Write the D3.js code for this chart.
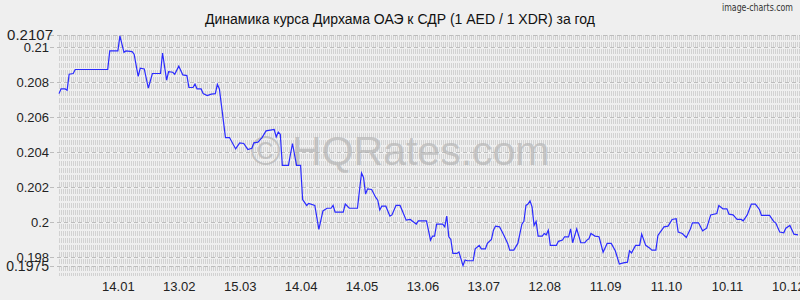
<!DOCTYPE html>
<html>
<head>
<meta charset="utf-8">
<script src="https://cdn.jsdelivr.net/npm/d3@7"></script>
<style>
	body { margin: 0; background: #efefef; }
	svg { display: block; font-family: "Liberation Sans", Arial, sans-serif; }
</style>
</head>
<body>
<div id="chart"></div>
<script>
////////////////////////////////////////////////////////////
//// Data //////////////////////////////////////////////////
////////////////////////////////////////////////////////////
const title = "Динамика курса Дирхама ОАЭ к СДР (1 AED / 1 XDR) за год";
const startDate = "2024-12-16";
const endDate = "2025-12-15";
// days since startDate
const days = [
	0, 1, 3, 4, 5, 7, 8, 24, 25, 29, 30, 32, 33, 36, 37, 39, 40, 42, 44, 46,
	50, 51, 53, 54, 56, 57, 59, 61, 63, 64, 66, 67, 68, 70, 71, 73, 75, 77, 78, 79,
	82, 84, 87, 89, 91, 93, 95, 96, 98, 100, 102, 106, 107, 108, 109, 110, 113, 115, 117, 119,
	120, 122, 123, 126, 128, 130, 132, 134, 135, 136, 140, 141, 143, 147, 149, 150, 151, 152, 154, 156,
	157, 158, 159, 161, 163, 164, 166, 168, 171, 173, 176, 177, 181, 183, 184, 185, 186, 189, 190, 191,
	192, 193, 194, 196, 197, 199, 200, 201, 204, 205, 207, 208, 210, 211, 213, 214, 215, 217, 219, 221,
	222, 224, 226, 228, 229, 230, 231, 232, 233, 234, 235, 236, 238, 239, 240, 241, 242, 245, 246, 248,
	249, 251, 252, 253, 255, 257, 259, 260, 261, 262, 264, 266, 268, 270, 272, 274, 276, 278, 280, 281,
	282, 284, 286, 287, 289, 291, 292, 294, 295, 298, 300, 302, 304, 305, 307, 309, 311, 312, 315, 316,
	317, 319, 321, 324, 325, 327, 329, 330, 332, 334, 336, 337, 339, 341, 343, 345, 346, 350, 352, 353,
	355, 357, 358, 360, 362, 364
];
const rates = [
	0.20735, 0.20762, 0.20762, 0.20754, 0.20846, 0.20850, 0.20873, 0.20873, 0.20979, 0.20979,
	0.21065, 0.20971, 0.20979, 0.20975, 0.20960, 0.20834, 0.20880, 0.20876, 0.20766, 0.20850,
	0.20850, 0.20967, 0.20812, 0.20861, 0.20857, 0.20846, 0.20892, 0.20842, 0.20838, 0.20770,
	0.20770, 0.20789, 0.20762, 0.20762, 0.20735, 0.20724, 0.20732, 0.20735, 0.20789, 0.20762,
	0.20484, 0.20484, 0.20419, 0.20454, 0.20450, 0.20416, 0.20423, 0.20454, 0.20458, 0.20484,
	0.20522, 0.20530, 0.20488, 0.20515, 0.20503, 0.20325, 0.20325, 0.20450, 0.20325, 0.20325,
	0.20130, 0.20096, 0.20108, 0.20096, 0.19959, 0.20065, 0.20080, 0.20080, 0.20096, 0.20058,
	0.20058, 0.20104, 0.20080, 0.20080, 0.20282, 0.20256, 0.20161, 0.20191, 0.20187, 0.20142,
	0.20126, 0.20070, 0.20092, 0.20092, 0.20035, 0.20042, 0.20096, 0.20096, 0.20012, 0.20016,
	0.19989, 0.20008, 0.20008, 0.19898, 0.19921, 0.19921, 0.19989, 0.19989, 0.19974, 0.20035,
	0.19917, 0.19902, 0.19822, 0.19822, 0.19830, 0.19752, 0.19784, 0.19780, 0.19780, 0.19848,
	0.19868, 0.19848, 0.19848, 0.19879, 0.19902, 0.19955, 0.19978, 0.19974, 0.19928, 0.19879,
	0.19841, 0.19841, 0.19879, 0.19989, 0.20005, 0.20096, 0.20104, 0.20122, 0.20088, 0.19982,
	0.20005, 0.19921, 0.19921, 0.19936, 0.19928, 0.19955, 0.19868, 0.19868, 0.19891, 0.19898,
	0.19917, 0.19917, 0.19962, 0.19883, 0.19962, 0.19883, 0.19883, 0.19898, 0.19905, 0.19936,
	0.19921, 0.19917, 0.19829, 0.19879, 0.19879, 0.19837, 0.19761, 0.19768, 0.19772, 0.19837,
	0.19825, 0.19868, 0.19868, 0.19932, 0.19868, 0.19852, 0.19841, 0.19841, 0.19925, 0.19974,
	0.19978, 0.20016, 0.20020, 0.19944, 0.19936, 0.19913, 0.19962, 0.19997, 0.19997, 0.19974,
	0.19951, 0.19966, 0.20042, 0.20050, 0.20096, 0.20077, 0.20077, 0.20046, 0.20042, 0.20016,
	0.20016, 0.20008, 0.20042, 0.20104, 0.20104, 0.20073, 0.20039, 0.20039, 0.20005, 0.19997,
	0.19944, 0.19940, 0.19966, 0.19982, 0.19932, 0.19928
];
const xTickDates = [
	"2025-01-14", "2025-02-13", "2025-03-15", "2025-04-14", "2025-05-14", "2025-06-13",
	"2025-07-13", "2025-08-12", "2025-09-11", "2025-10-11", "2025-11-10", "2025-12-10"
];
const yTicks = [0.1975, 0.198, 0.2, 0.202, 0.204, 0.206, 0.208, 0.21, 0.2107];

////////////////////////////////////////////////////////////
//// Setup /////////////////////////////////////////////////
////////////////////////////////////////////////////////////
const width = 800;
const height = 300;
const margin = { top: 35, right: 2, bottom: 34, left: 59 };
const parse = d3.utcParse("%Y-%m-%d");
const start = parse(startDate);
const yMin = d3.min(yTicks);
const yMax = d3.max(yTicks);

const data = days.map((d, i) => ({ date: d3.utcDay.offset(start, d), value: rates[i] }));

const x = d3
	.scaleUtc()
	.domain([start, parse(endDate)])
	.range([margin.left, width - margin.right]);

const y = d3
	.scaleLinear()
	.domain([yMin, yMax])
	.range([height - margin.bottom, margin.top]);

const line = d3
	.line()
	.x(d => x(d.date))
	.y(d => y(d.value));

const svg = d3
	.select("#chart")
	.append("svg")
	.attr("width", width)
	.attr("height", height);

svg.append("rect").attr("width", width).attr("height", height).attr("fill", "#efefef");

////////////////////////////////////////////////////////////
//// Render ////////////////////////////////////////////////
////////////////////////////////////////////////////////////
// Dense background texture
const gridBottom = height - margin.bottom + 10;
svg
	.append("g")
	.attr("stroke", "#d2d2d2")
	.attr("stroke-width", 1)
	.attr("stroke-dasharray", "5,2")
	.attr("shape-rendering", "crispEdges")
	.selectAll("line")
	.data(d3.range(margin.left, width, 2))
	.join("line")
	.attr("x1", d => d + 0.5)
	.attr("x2", d => d + 0.5)
	.attr("y1", margin.top)
	.attr("y2", gridBottom);

// Horizontal grid at ticks
svg
	.append("g")
	.attr("stroke", "#bdbdbd")
	.attr("stroke-dasharray", "4,3")
	.attr("shape-rendering", "crispEdges")
	.selectAll("line")
	.data(yTicks)
	.join("line")
	.attr("x1", margin.left - 9)
	.attr("x2", width)
	.attr("y1", d => Math.round(y(d)) + 0.5)
	.attr("y2", d => Math.round(y(d)) + 0.5);

// Y axis labels (the end values are printed a little larger)
svg
	.append("g")
	.attr("transform", `translate(${margin.left - 10},0)`)
	.call(d3.axisLeft(y).tickValues(yTicks).tickSize(0).tickFormat(d3.format("")))
	.call(g => g.select(".domain").remove())
	.call(g =>
		g
			.selectAll("text")
			.attr("x", d => (d === yMax ? 4 : 0))
			.attr("font-size", d => (d === yMax ? 15 : d === yMin ? 14 : 13))
			.attr("fill", "#222")
			.attr("font-family", null)
	);

// X axis labels
svg
	.append("g")
	.attr("transform", `translate(0,${height - margin.bottom + 13})`)
	.call(d3.axisBottom(x).tickValues(xTickDates.map(parse)).tickSize(0).tickFormat(d3.utcFormat("%d.%m")))
	.call(g => g.select(".domain").remove())
	.call(g => g.selectAll("text").attr("font-size", 13).attr("fill", "#222").attr("font-family", null));

// Watermark
svg
	.append("text")
	.attr("x", 400)
	.attr("y", 165)
	.attr("text-anchor", "middle")
	.attr("font-size", 41)
	.attr("fill", "#b4b4b4")
	.attr("fill-opacity", 0.7)
	.text("© HQRates.com");

// Rate line
svg
	.append("path")
	.datum(data)
	.attr("fill", "none")
	.attr("stroke", "#2b2bff")
	.attr("stroke-width", 1.2)
	.attr("d", line);

// Title
svg
	.append("text")
	.attr("x", 400)
	.attr("y", 24)
	.attr("text-anchor", "middle")
	.attr("font-size", 14)
	.attr("fill", "#111")
	.text(title);

svg
	.append("text")
	.attr("x", 793)
	.attr("y", 11)
	.attr("text-anchor", "end")
	.attr("font-size", 10)
	.attr("font-family", "'DejaVu Sans Condensed', 'DejaVu Sans', sans-serif")
	.attr("fill", "#333")
	.attr("textLength", 71)
	.attr("lengthAdjust", "spacingAndGlyphs")
	.text("image-charts.com");
</script>
</body>
</html>
